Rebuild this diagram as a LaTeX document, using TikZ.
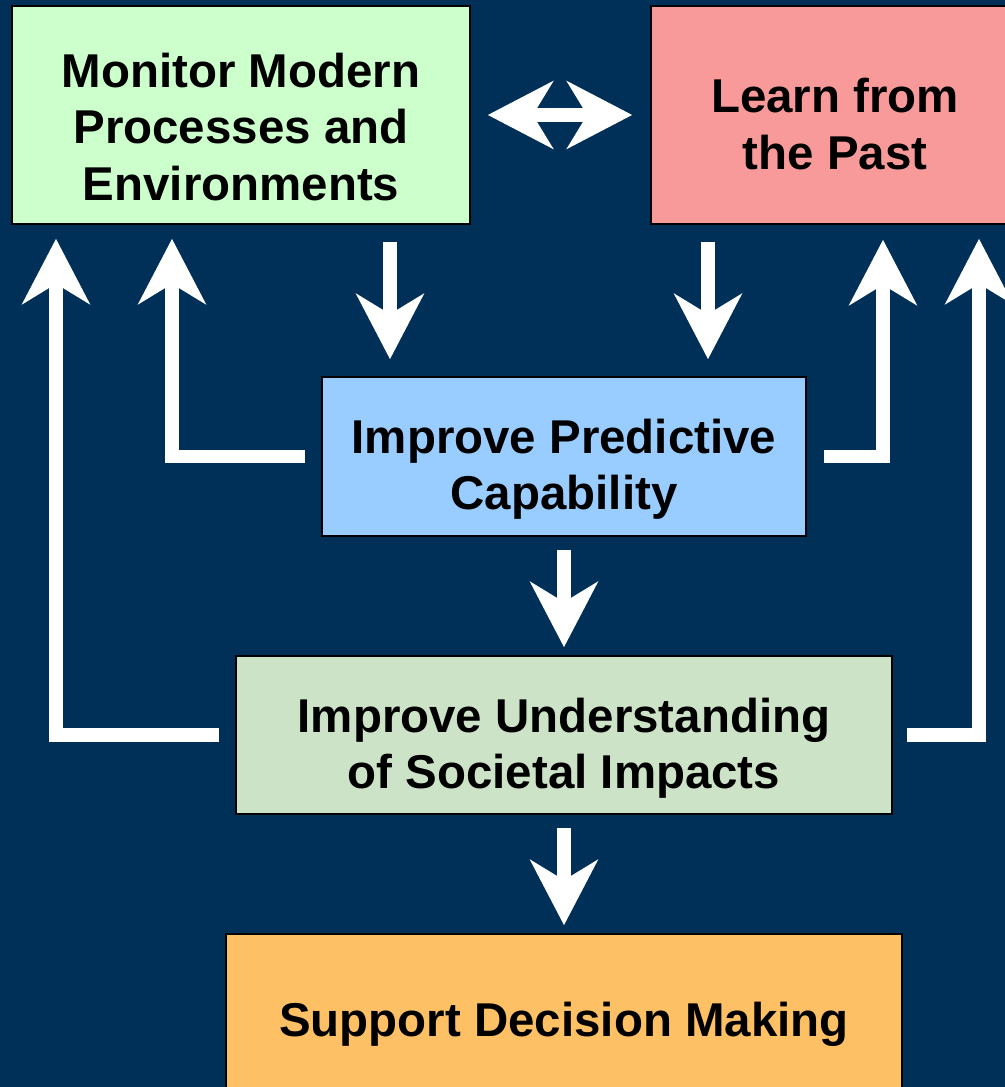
\documentclass[tikz,border=0pt]{standalone}
\usepackage{fontspec}
\setmainfont{Liberation Sans}
\usetikzlibrary{arrows.meta}

\definecolor{navy}{HTML}{003057}
\definecolor{mintgreen}{HTML}{CCFFCC}
\definecolor{salmon}{HTML}{F99A9A}
\definecolor{skyblue}{HTML}{99CCFF}
\definecolor{sage}{HTML}{CDE3C7}
\definecolor{apricot}{HTML}{FDC064}

\begin{document}
\begin{tikzpicture}[>={Stealth[length=1.3cm,width=1.34cm,inset=0.4cm]},
    flow/.style={->,draw=white,line width=0.27cm},
    twoway/.style={<->,draw=white,line width=0.27cm},
    box/.style={draw=black,line width=0.9pt,inner sep=0pt},
    caption/.style={align=center,inner sep=0pt,
        font=\fontsize{27}{32}\selectfont\bfseries}]
    \useasboundingbox (0,0) rectangle (20.1,21.74);
    \clip (0,0) rectangle (20.1,21.74);
    \fill[navy] (0,0) rectangle (20.1,21.74);

    % boxes
    \node[box,fill=mintgreen,minimum width=9.16cm,minimum height=4.36cm] (monitor) at (4.82,19.44) {};
    \node[box,fill=salmon,minimum width=7.36cm,minimum height=4.36cm] (learn) at (16.7,19.44) {};
    \node[box,fill=skyblue,minimum width=9.68cm,minimum height=3.18cm] (predict) at (11.28,12.61) {};
    \node[box,fill=sage,minimum width=13.12cm,minimum height=3.16cm] (understand) at (11.28,7.04) {};
    \node[box,fill=apricot,minimum width=13.52cm,minimum height=3.44cm] (support) at (11.28,1.34) {};

    % box texts, set a little below centre
    \node[caption] (monitortext) at ([yshift=-0.24cm]monitor) {Monitor Modern\\Processes and\\Environments};
    \node[caption] (learntext) at ([yshift=-0.18cm]learn) {Learn from\\the Past};
    \node[caption] (predicttext) at ([yshift=-0.26cm]predict) {Improve Predictive\\Capability};
    \node[caption] (understandtext) at ([yshift=-0.26cm]understand) {Improve Understanding\\of Societal Impacts};
    \node[caption] (supporttext) at ([yshift=-0.08cm]support) {Support Decision Making};

    % columns of the vertical arrows
    \coordinate (farleft) at (1.12,0);
    \coordinate (left) at (3.44,0);
    \coordinate (downl) at (7.8,0);
    \coordinate (downr) at (14.16,0);
    \coordinate (right) at (17.66,0);
    \coordinate (farright) at (19.58,0);

    % arrows
    \draw[twoway,shorten <=0.34cm,shorten >=0.36cm] (monitor.east) -- (learn.west);
    \draw[flow,shorten <=0.34cm,shorten >=0.34cm] (downl |- monitor.south) -- (downl |- predict.north);
    \draw[flow,shorten <=0.34cm,shorten >=0.34cm] (downr |- learn.south) -- (downr |- predict.north);
    \draw[flow,shorten <=0.26cm,shorten >=0.16cm] (predict.south) -- (understand.north);
    \draw[flow,shorten <=0.26cm,shorten >=0.16cm] (understand.south) -- (support.north);
    \draw[flow,shorten <=0.32cm,shorten >=0.28cm] (predict.west) -| (left |- monitor.south);
    \draw[flow,shorten <=0.32cm,shorten >=0.28cm] (understand.west) -| (farleft |- monitor.south);
    \draw[flow,shorten <=0.34cm,shorten >=0.3cm] (predict.east) -| (right |- learn.south);
    \draw[flow,shorten <=0.28cm,shorten >=0.28cm] (understand.east) -| (farright |- learn.south);
\end{tikzpicture}
\end{document}
